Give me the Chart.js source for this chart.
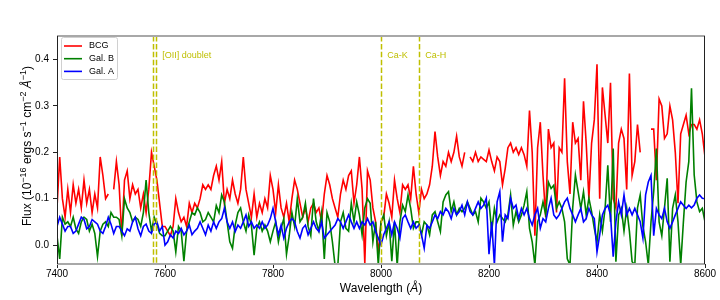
<!DOCTYPE html>
<html>
<head>
<meta charset="utf-8">
<script src="https://cdn.jsdelivr.net/npm/chart.js@4"></script>
<style>
  html, body { margin: 0; padding: 0; background: #fff; }
  #wrap { width: 720px; height: 300px; }
</style>
</head>
<body>
<div id="wrap"><canvas id="spec" width="720" height="300"></canvas></div>
<script>
// wavelength grid (Å), 5 Å sampling from 7400 to 8600
const WL_START = 7400, WL_STEP = 5, WL_COUNT = 241;
const WAVELENGTHS = Array.from({ length: WL_COUNT }, (_, i) => WL_START + i * WL_STEP);

const SERIES_NAMES = ['BCG', 'Gal. B', 'Gal. A'];

// flux in 1e-16 erg/s/cm2/Å, null = masked pixel
const BCG = [
    0.08,0.19,0.10,0.06,0.12,0.07,0.13,0.09,0.12,0.08,
    0.14,0.09,0.12,0.07,0.11,0.08,0.19,0.15,0.10,0.11,
    null,0.12,0.18,0.13,0.02,0.14,0.16,0.10,0.13,0.11,
    0.12,0.08,0.11,0.07,0.12,0.20,0.17,0.14,0.09,0.04,
    0.04,
    0.03,0.02,0.04,0.10,0.07,0.05,0.06,0.04,0.09,0.07,
    0.09,0.08,0.10,0.13,0.12,0.13,0.12,0.15,0.17,0.14,
    0.18,0.09,0.12,0.10,0.14,0.11,0.09,0.12,0.19,0.12,
    0.09,0.06,0.11,0.06,0.09,0.07,0.10,0.08,0.15,0.12,
    0.07,0.13,0.08,0.06,0.09,0.05,0.10,0.14,0.12,0.09,
    0.06,0.08,0.05,0.08,0.09,0.07,0.08,0.05,0.11,0.15,
    0.13,0.10,0.08,0.06,0.11,0.14,0.12,0.15,0.16,0.09,
    0.13,0.19,0.12,-0.04,0.16,0.14,0.08,0.05,-0.02,0.05,
    0.06,0.11,0.09,0.06,0.14,0.10,0.07,0.13,0.12,0.13,
    0.10,0.17,0.11,0.07,0.12,0.10,0.11,0.13,0.17,0.245,
    0.19,0.15,0.18,0.17,0.20,0.18,0.20,0.235,0.19,0.17,
    0.20,null,0.19,0.18,0.20,0.18,0.19,0.185,0.18,0.205,
    0.18,0.16,0.19,0.18,0.13,0.165,0.21,0.22,0.20,0.21,
    0.195,0.21,0.195,0.17,0.29,0.20,0.02,0.21,0.265,0.15,
    0.06,0.25,0.21,0.22,0.07,0.21,0.20,0.36,0.18,0.11,
    0.265,0.22,0.23,0.14,0.31,0.22,0.10,0.22,0.27,0.39,
    0.10,0.34,0.28,0.22,0.35,0.10,0.08,0.22,0.25,0.23,
    0.12,0.37,0.15,0.18,0.26,0.20,null,null,null,0.25,
    0.25,0.14,0.315,0.30,0.23,0.24,0.30,0.27,0.20,0.09,
    0.24,0.26,0.28,0.24,0.26,0.26,0.25,0.27,0.24,0.19,
];

const GAL_B = [
    0.02,-0.03,0.06,0.045,0.05,0.04,0.06,0.035,0.025,0.05,
    0.06,0.055,0.03,0.045,0.025,-0.025,0.03,0.045,0.05,0.04,
    0.07,0.06,0.06,0.055,0.02,0.10,0.08,0.07,0.05,0.06,
    0.055,0.04,0.07,0.14,0.07,0.03,0.06,0.045,0.025,0.02,
    0.02,
    0.03,0.04,0.03,-0.015,0.04,0.03,-0.035,0.03,0.05,0.07,
    0.065,0.08,0.07,0.05,0.055,0.07,0.06,0.05,0.085,0.07,
    0.108,0.093,0.05,0.007,-0.007,0.043,0.07,0.08,0.05,0.03,
    0.065,0.043,-0.022,0.036,0.05,0.03,0.043,0.03,0.007,0.03,
    0.05,0.007,0.036,0.057,-0.02,0.02,0.07,0.04,0.10,0.05,
    0.06,0.09,0.04,0.02,0.10,0.05,0.03,0.07,-0.03,0.07,
    0.05,0.007,-0.045,-0.045,0.05,0.07,0.036,0.03,0.09,0.05,
    0.093,0.065,0.022,0.08,0.10,0.09,0.007,0.05,-0.043,0.05,
    0.065,0.02,0.05,-0.035,0.05,-0.045,0.05,0.086,0.072,0.108,
    0.079,0.036,0.05,0.05,0.022,0.05,0.043,0.022,0.065,0.072,
    0.05,0.029,0.093,0.108,0.115,0.072,0.093,0.065,0.079,0.072,
    0.079,0.093,0.079,0.065,0.072,0.05,0.101,0.093,0.079,0.093,
    0.03,0.079,0.05,0.065,0.057,0.05,0.065,0.108,0.043,0.072,
    0.05,0.065,0.086,0.115,0.036,0.007,-0.043,0.05,0.065,0.093,
    0.065,0.136,0.122,0.129,0.079,0.093,0.079,0.05,-0.03,-0.043,
    0.08,0.151,0.115,0.079,0.115,0.065,0.101,0.072,0.036,0.007,
    0.065,0.03,0.079,0.172,0.05,0.208,-0.036,0.065,0.079,0.03,
    0.079,0.03,-0.036,-0.043,0.08,0.108,0.04,0.007,-0.043,0.05,
    0.115,0.208,0.05,0.02,0.08,0.144,-0.036,0.079,0.108,0.05,
    -0.043,0.05,0.136,0.18,0.338,0.151,0.093,0.072,0.079,0.05,
];

const GAL_A = [
    0.04,0.06,0.045,0.03,0.04,0.04,0.025,0.03,0.045,0.06,
    0.055,0.035,0.04,0.055,0.05,0.045,0.03,0.025,0.04,0.06,
    0.045,0.025,0.04,0.04,0.03,0.02,0.035,0.03,0.05,0.06,
    0.035,0.02,0.04,0.045,0.03,0.025,0.045,0.05,0.03,0.04,
    0.0,
    0.007,0.022,0.015,0.03,0.025,0.036,0.022,0.03,0.043,0.022,
    0.03,0.036,0.05,0.036,0.022,0.043,0.03,0.05,0.036,0.05,
    0.057,0.079,0.05,0.036,0.05,0.029,0.043,0.036,0.05,0.065,
    0.04,0.05,0.036,0.043,0.036,0.05,0.036,0.043,0.057,0.079,
    0.05,0.022,0.043,0.015,0.036,0.05,0.057,0.05,0.029,0.015,
    0.036,0.043,0.022,0.036,0.05,0.036,0.029,0.05,0.015,0.022,
    0.029,0.036,0.043,0.057,0.05,0.036,0.05,0.065,0.05,0.036,
    0.05,0.036,0.05,0.043,0.057,0.043,0.05,0.029,0.015,0.0,
    0.022,0.036,0.05,0.022,0.05,0.036,0.015,0.057,0.065,0.05,
    0.036,0.05,0.036,0.043,0.022,-0.007,0.043,0.036,0.05,0.065,
    0.057,0.072,0.065,0.079,0.072,0.057,0.079,0.065,0.072,0.086,
    0.065,0.093,0.072,0.065,0.079,0.093,0.079,0.086,0.101,-0.02,
    0.05,-0.043,0.093,0.115,0.007,0.065,0.057,0.101,0.079,0.086,
    0.057,0.079,0.065,0.079,0.057,0.043,0.065,0.079,0.036,0.057,
    0.05,0.079,0.101,0.065,0.057,0.065,0.079,0.093,0.101,0.079,
    0.065,0.05,0.065,0.079,0.05,0.057,0.079,0.065,0.057,-0.015,
    0.022,0.065,0.079,0.086,0.065,-0.025,0.05,0.093,0.065,0.108,
    0.065,0.079,0.065,0.079,0.065,0.05,0.015,0.108,0.136,0.15,
    0.02,0.079,0.065,0.057,0.079,0.05,0.036,0.05,0.065,0.079,
    0.093,0.086,0.079,0.086,0.08,0.086,0.101,0.108,0.101,0.1,
];

const X_TICKS = [7400, 7600, 7800, 8000, 8200, 8400, 8600];
const Y_TICKS = [0.0, 0.1, 0.2, 0.3, 0.4];

// redshifted lines (z ~ 1.034)
const LINE_MARKS = [7578.0, 7583.6, 8000.3, 8071.0];
const LINE_LABELS = [
    { text: '[OII] doublet', at: 7583.6 },
    { text: 'Ca-K', at: 8000.3 },
    { text: 'Ca-H', at: 8071.0 },
];

const COLORS = ['#ff0000', '#008000', '#0000ff'];
const MARK_COLOR = '#bfbf00';
const FONT = '"Liberation Sans", Arial, Helvetica, sans-serif';

const toPoints = vals => WAVELENGTHS.map((w, i) => ({ x: w, y: vals[i] }));

function drawRich(ctx, parts, x, y, size) {
    // measure then draw centred on x
    const fontFor = p => `${p.italic ? 'italic ' : ''}${p.sup ? Math.round(size * 0.75) : size}px ${FONT}`;
    let total = 0;
    parts.forEach(p => { ctx.font = fontFor(p); total += ctx.measureText(p.t).width; });
    let cx = x - total / 2;
    parts.forEach(p => {
        ctx.font = fontFor(p);
        ctx.fillText(p.t, cx, p.sup ? y - size * 0.4 : y);
        cx += ctx.measureText(p.t).width;
    });
}

const overlay = {
    id: 'overlay',
    afterDatasetsDraw(chart) {
        const { ctx, chartArea: a, scales: { x, y } } = chart;
        ctx.save();
        ctx.beginPath();
        ctx.rect(a.left, a.top, a.right - a.left, a.bottom - a.top);
        ctx.clip();
        ctx.strokeStyle = MARK_COLOR;
        ctx.lineWidth = 1.5;
        ctx.setLineDash([5.5, 2.4]);
        LINE_MARKS.forEach(w => {
            const px = Math.round(x.getPixelForValue(w)) + 0.5;
            ctx.beginPath();
            ctx.moveTo(px, a.top);
            ctx.lineTo(px, a.bottom);
            ctx.stroke();
        });
        ctx.setLineDash([]);
        ctx.fillStyle = MARK_COLOR;
        ctx.font = `9px ${FONT}`;
        ctx.textBaseline = 'middle';
        LINE_LABELS.forEach(l => ctx.fillText(l.text, x.getPixelForValue(l.at) + 6, y.getPixelForValue(0.408)));
        ctx.restore();
    },
    afterDraw(chart) {
        const { ctx, chartArea: a } = chart;
        ctx.save();
        // frame
        ctx.strokeStyle = '#a8a8a8';
        ctx.lineWidth = 2;
        ctx.beginPath();
        ctx.moveTo(a.left, a.top); ctx.lineTo(a.right, a.top);
        ctx.moveTo(a.left, a.bottom); ctx.lineTo(a.right, a.bottom);
        ctx.stroke();
        ctx.strokeStyle = '#222';
        ctx.lineWidth = 1;
        ctx.beginPath();
        ctx.moveTo(a.left + 0.5, a.top); ctx.lineTo(a.left + 0.5, a.bottom);
        ctx.moveTo(a.right - 0.5, a.top); ctx.lineTo(a.right - 0.5, a.bottom);
        ctx.stroke();

        // legend
        const lx = 61, ly = 37, lw = 56, lh = 42;
        ctx.fillStyle = 'rgba(255,255,255,0.85)';
        ctx.strokeStyle = '#d0d0d0';
        ctx.lineWidth = 1;
        ctx.beginPath();
        ctx.roundRect(lx + 0.5, ly + 0.5, lw, lh, 2);
        ctx.fill();
        ctx.stroke();
        ctx.font = `9px ${FONT}`;
        ctx.textBaseline = 'middle';
        SERIES_NAMES.forEach((name, i) => {
            const ry = ly + 9 + i * 12.7;
            ctx.strokeStyle = COLORS[i];
            ctx.lineWidth = 1.6;
            ctx.beginPath();
            ctx.moveTo(lx + 3, ry); ctx.lineTo(lx + 21, ry);
            ctx.stroke();
            ctx.fillStyle = '#000';
            ctx.fillText(name, lx + 28, ry);
        });

        // axis titles
        ctx.fillStyle = '#000';
        ctx.textBaseline = 'middle';
        ctx.textAlign = 'left';
        drawRich(ctx, [{ t: 'Wavelength (' }, { t: 'Å', italic: true }, { t: ')' }], (a.left + a.right) / 2, 289, 12);
        ctx.translate(28, 146);
        ctx.rotate(-Math.PI / 2);
        drawRich(ctx, [
            { t: 'Flux (10' }, { t: '−16', sup: true }, { t: ' ergs s' }, { t: '−1', sup: true },
            { t: ' cm' }, { t: '−2', sup: true }, { t: ' ' }, { t: 'Å', italic: true }, { t: '−1', sup: true }, { t: ')' },
        ], 0, 0, 12);
        ctx.restore();
    },
};

new Chart(document.getElementById('spec'), {
    type: 'line',
    data: {
        datasets: [
            { label: SERIES_NAMES[0], data: toPoints(BCG), borderColor: COLORS[0], order: 3 },
            { label: SERIES_NAMES[1], data: toPoints(GAL_B), borderColor: COLORS[1], order: 2 },
            { label: SERIES_NAMES[2], data: toPoints(GAL_A), borderColor: COLORS[2], order: 1 },
        ],
    },
    options: {
        responsive: false,
        animation: false,
        devicePixelRatio: 1,
        spanGaps: false,
        datasets: { line: { borderWidth: 1.6, pointRadius: 0, tension: 0, fill: false } },
        layout: { padding: { top: 36, right: 15, left: 0, bottom: 0 } },
        plugins: { legend: { display: false }, tooltip: { enabled: false } },
        scales: {
            x: {
                type: 'linear', min: 7400, max: 8600,
                afterFit: s => { s.height = 36; },
                afterBuildTicks: s => { s.ticks = X_TICKS.map(v => ({ value: v })); },
                grid: { drawOnChartArea: false, drawTicks: true, tickLength: 4, color: '#222' },
                border: { display: false },
                ticks: { color: '#000', font: { family: FONT, size: 10 }, padding: 0, maxRotation: 0, callback: v => String(v) },
            },
            y: {
                type: 'linear', min: -0.041, max: 0.451,
                afterFit: s => { s.width = 57; },
                afterBuildTicks: s => { s.ticks = Y_TICKS.map(v => ({ value: v })); },
                grid: { drawOnChartArea: false, drawTicks: true, tickLength: 4, color: '#222' },
                border: { display: false },
                ticks: { color: '#000', font: { family: FONT, size: 10 }, padding: 4, callback: v => v.toFixed(1) },
            },
        },
    },
    plugins: [overlay],
});
</script>
</body>
</html>
